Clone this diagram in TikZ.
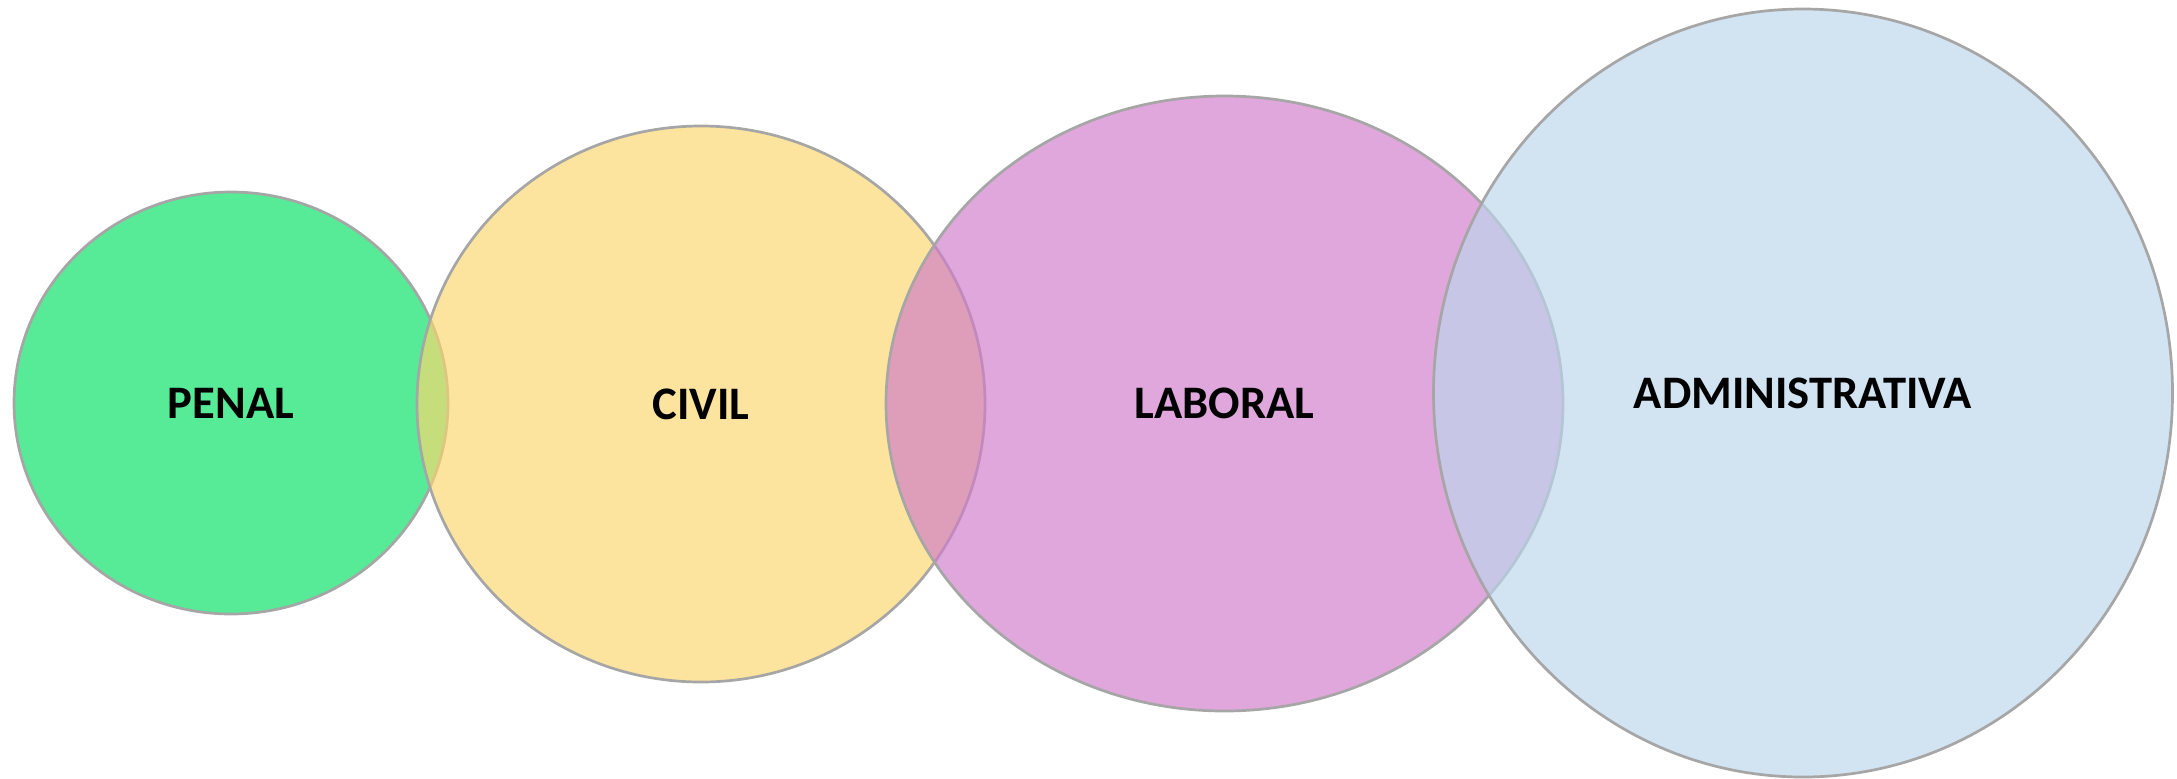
\documentclass[tikz,border=0pt]{standalone}
\usepackage{fontspec}
\setmainfont{Carlito}
\usetikzlibrary{shapes.geometric}
\definecolor{bordergray}{RGB}{166,166,166}
\definecolor{penalc}{RGB}{87,234,151}
\definecolor{civilc}{RGB}{252,215,110}
\definecolor{laboralc}{RGB}{207,124,201}
\definecolor{adminc}{RGB}{188,213,236}
\begin{document}
\begin{tikzpicture}[x=0.5pt,y=-0.5pt,
  circ/.style={ellipse, draw=bordergray, line width=1.35pt, inner sep=0pt,
    fill opacity=0.67, text opacity=1,
    font=\bfseries\fontsize{23.3}{28}\selectfont, text=black}]
\useasboundingbox (0,0) rectangle (2177,778);
\node[circ, fill=penalc, fill opacity=1, minimum width=217pt, minimum height=211pt] (penal) at (231,403) {PENAL};
\node[circ, fill=civilc, minimum width=284pt, minimum height=278pt] (civil) at (701,404) {CIVIL};
\node[circ, fill=laboralc, minimum width=338.5pt, minimum height=307.5pt] (laboral) at (1224.5,403.5) {LABORAL};
\node[circ, fill=adminc, minimum width=369.5pt, minimum height=384pt] (admin) at (1803,393) {ADMINISTRATIVA};
\end{tikzpicture}
\end{document}
